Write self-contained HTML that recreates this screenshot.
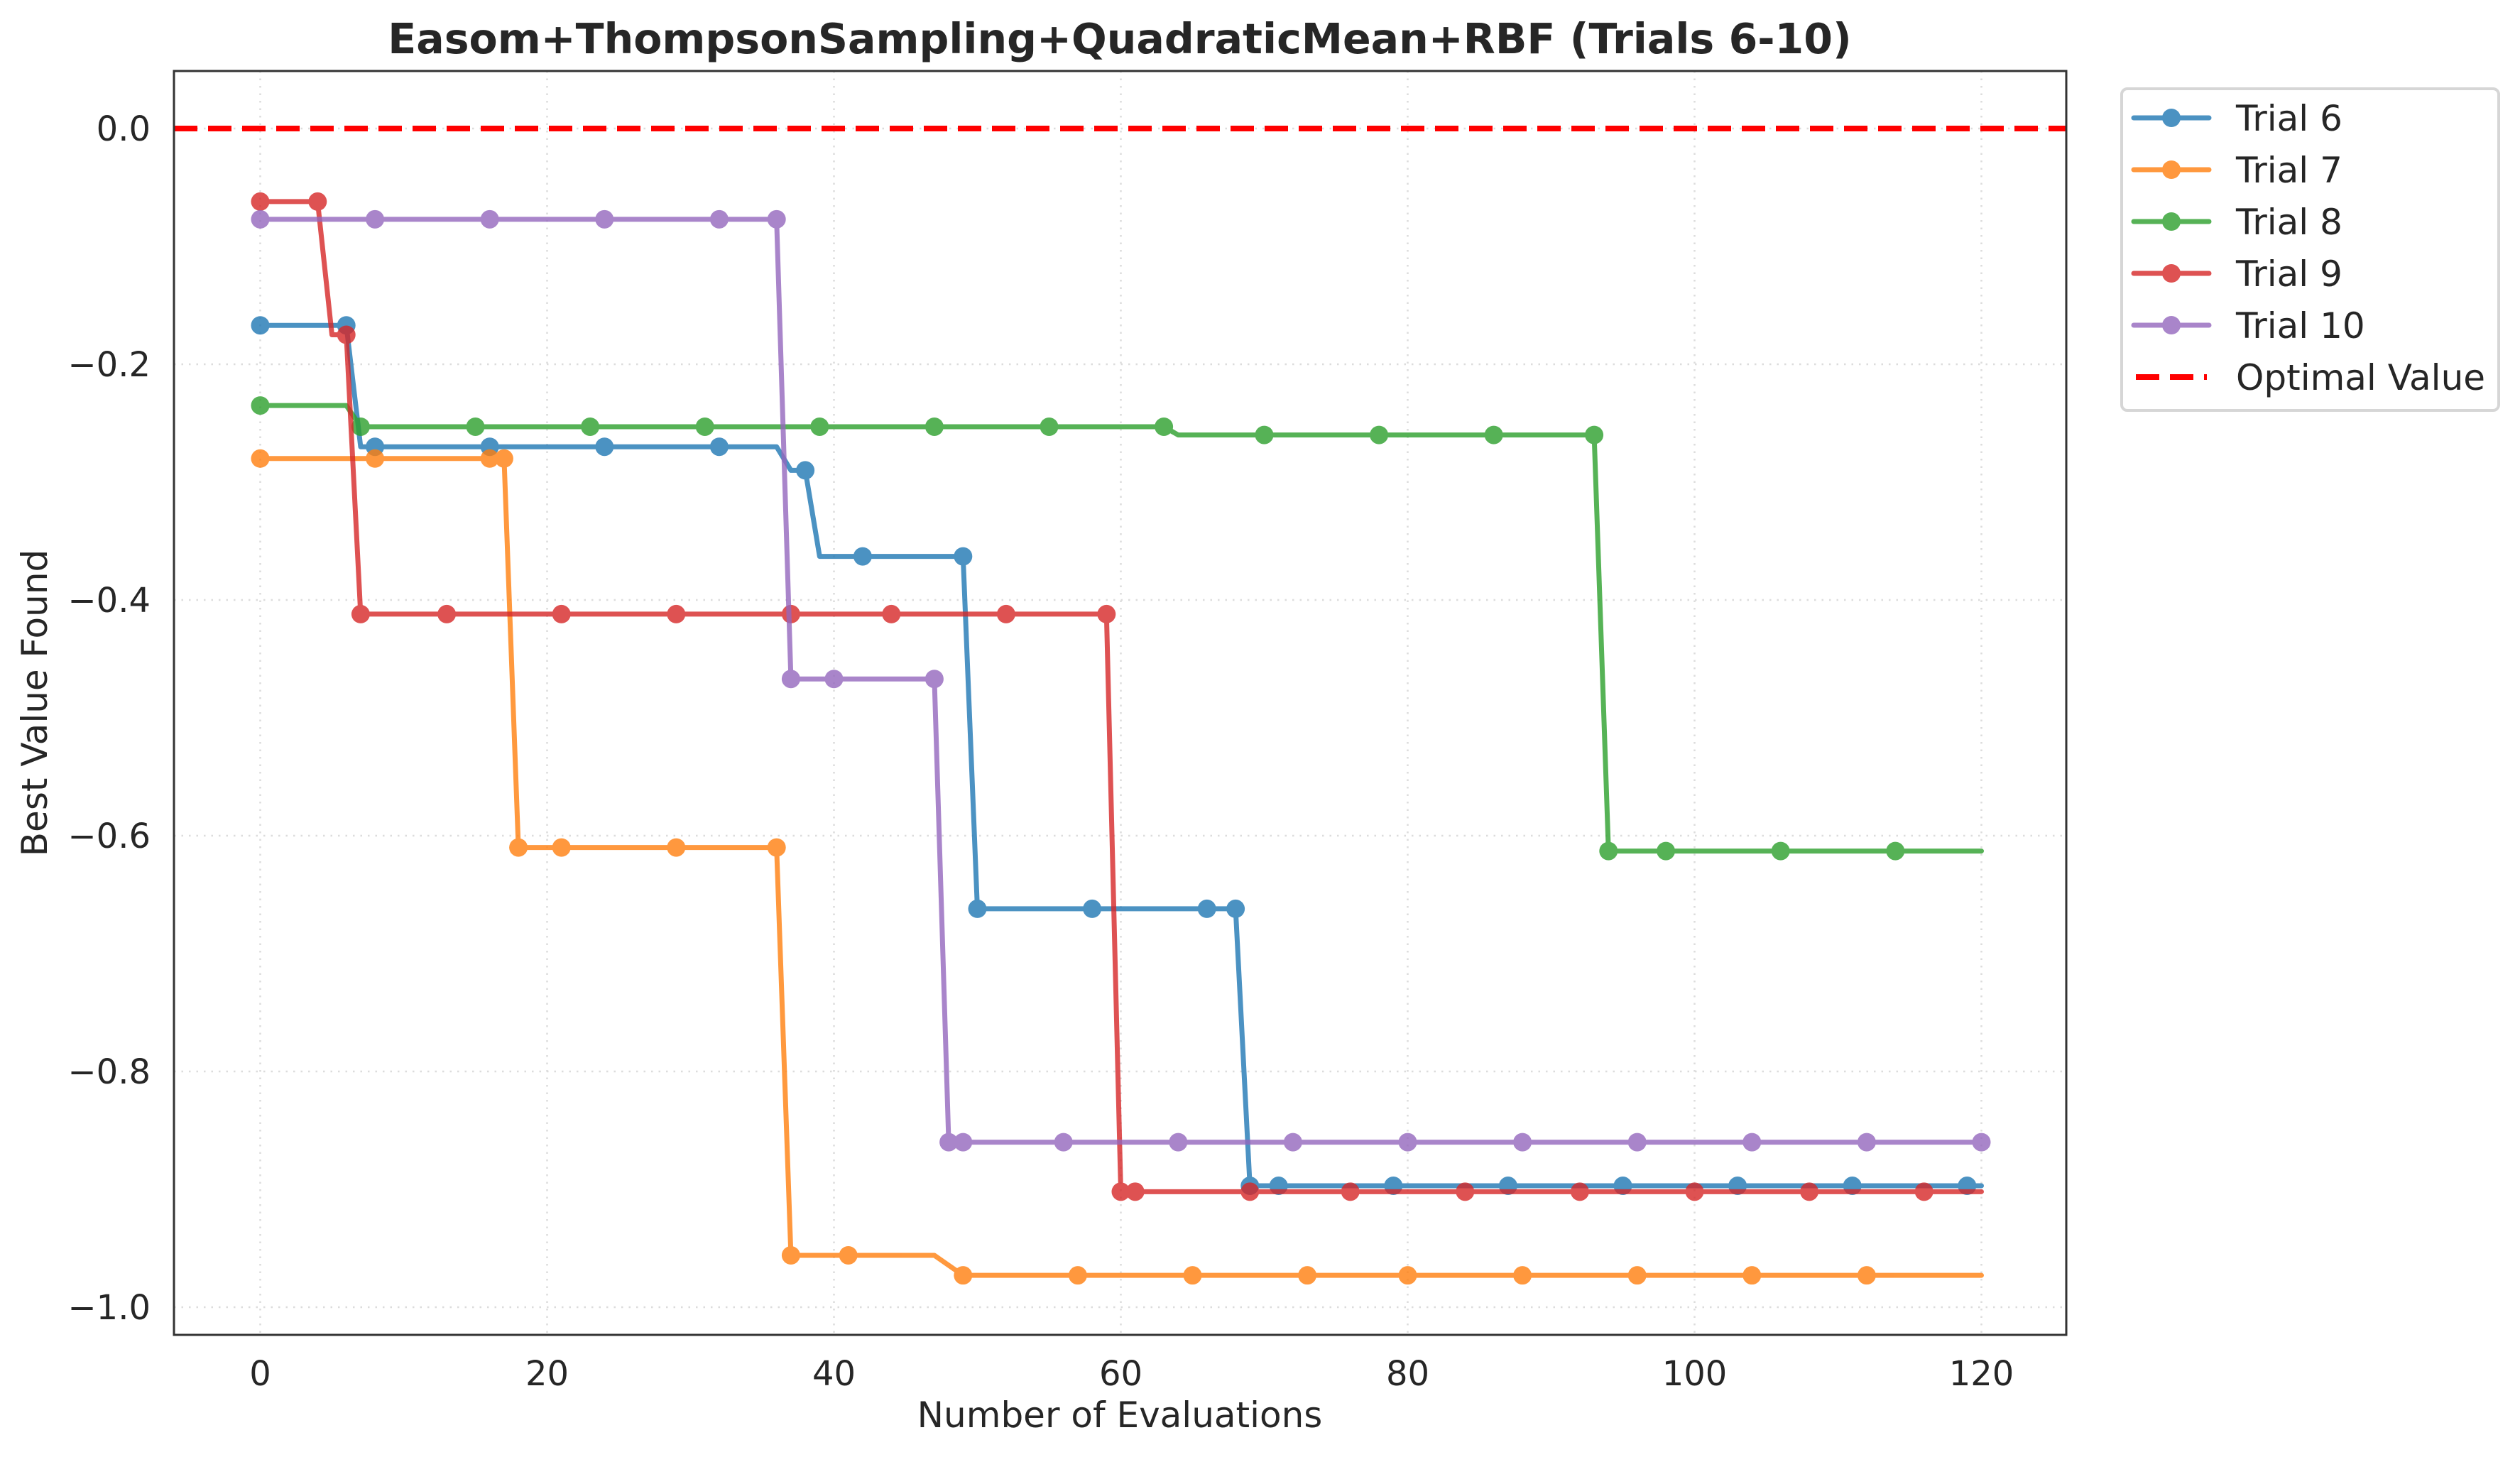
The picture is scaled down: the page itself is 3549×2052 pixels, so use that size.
<!DOCTYPE html>
<html><head><meta charset="utf-8"><style>
html,body{margin:0;padding:0;background:#fff;}
svg{display:block;font-family:"DejaVu Sans","Liberation Sans",sans-serif;}
</style></head><body>
<svg id="chart" width="3549" height="2052" viewBox="0 0 3549 2052" xmlns="http://www.w3.org/2000/svg">
<rect width="3549" height="2052" fill="#fff"/>
<g id="grid"></g>
<g id="series"></g>
<rect x="245" y="100" width="2665" height="1780" fill="none" stroke="#333" stroke-width="3"/>
<g id="ticks"></g>
<text x="1577" y="75" text-anchor="middle" font-size="58.5" font-weight="bold" fill="#262626">Easom+ThompsonSampling+QuadraticMean+RBF (Trials 6-10)</text>
<text x="1577" y="2010" text-anchor="middle" font-size="50" fill="#262626">Number of Evaluations</text>
<text x="66" y="990" text-anchor="middle" font-size="50" fill="#262626" transform="rotate(-90 66 990)">Best Value Found</text>
<g id="legend"></g>
</svg>
<script>
const xTicks = [0, 20, 40, 60, 80, 100, 120];
const yTicks = [0.0, -0.2, -0.4, -0.6, -0.8, -1.0];
const seriesNames = ["Trial 6", "Trial 7", "Trial 8", "Trial 9", "Trial 10"];
const seriesColors = ["#1f77b4", "#ff7f0e", "#2ca02c", "#d62728", "#9467bd"];
const optimalValue = 0.0;
// vertex x/y (line path) and marker x per trial
const t6x = [0, 6, 7, 36, 37, 38, 39, 49, 50, 68, 69, 120];
const t6y = [-0.167, -0.167, -0.270, -0.270, -0.290, -0.290, -0.363, -0.363, -0.662, -0.662, -0.897, -0.897];
const t6m = [0, 6, 8, 16, 24, 32, 38, 42, 49, 50, 58, 66, 68, 69, 71, 79, 87, 95, 103, 111, 119];
const t7x = [0, 17, 18, 36, 37, 47, 49, 120];
const t7y = [-0.280, -0.280, -0.610, -0.610, -0.956, -0.956, -0.973, -0.973];
const t7m = [0, 8, 16, 17, 18, 21, 29, 36, 37, 41, 49, 57, 65, 73, 80, 88, 96, 104, 112];
const t8x = [0, 6, 7, 63, 64, 93, 94, 120];
const t8y = [-0.235, -0.235, -0.253, -0.253, -0.260, -0.260, -0.613, -0.613];
const t8m = [0, 7, 15, 23, 31, 39, 47, 55, 63, 70, 78, 86, 93, 94, 98, 106, 114];
const t9x = [0, 4, 5, 6, 7, 59, 60, 120];
const t9y = [-0.062, -0.062, -0.175, -0.175, -0.412, -0.412, -0.902, -0.902];
const t9m = [0, 4, 6, 7, 13, 21, 29, 37, 44, 52, 59, 60, 61, 69, 76, 84, 92, 100, 108, 116];
const t10x = [0, 36, 37, 47, 48, 120];
const t10y = [-0.077, -0.077, -0.467, -0.467, -0.860, -0.860];
const t10m = [0, 8, 16, 24, 32, 36, 37, 40, 47, 48, 49, 56, 64, 72, 80, 88, 96, 104, 112, 120];

const NS = "http://www.w3.org/2000/svg";
const X0 = 366.5, XPU = 20.2;
const Y0 = 181, YPU = 1660;
function sx(v){ return X0 + v * XPU; }
function sy(v){ return Y0 - v * YPU; }
function mk(tag, attrs, parent){ const e = document.createElementNS(NS, tag); for (const k in attrs) e.setAttribute(k, attrs[k]); parent.appendChild(e); return e; }
function interp(xs, ys, x){ for (let i = 0; i < xs.length - 1; i++){ if (x >= xs[i] && x <= xs[i+1]){ if (xs[i+1] === xs[i]) return ys[i+1]; return ys[i] + (ys[i+1]-ys[i])*(x-xs[i])/(xs[i+1]-xs[i]); } } return ys[ys.length-1]; }

const grid = document.getElementById('grid');
const ticks = document.getElementById('ticks');
xTicks.forEach(t => {
  const g = mk('line', {x1: sx(t), x2: sx(t), y1: 100, y2: 1880, stroke: '#dcdcdc', 'stroke-width': 2.5, 'stroke-dasharray': '2.5 8'}, grid);
  
  
  const l = mk('text', {x: sx(t), y: 1951, 'text-anchor': 'middle', 'font-size': 48, fill: '#262626'}, ticks);
  l.textContent = String(t);
  
  
});
yTicks.forEach(t => {
  const g = mk('line', {x1: 245, x2: 2910, y1: sy(t), y2: sy(t), stroke: '#dcdcdc', 'stroke-width': 2.5, 'stroke-dasharray': '2.5 8'}, grid);
  
  
  const l = mk('text', {x: 212, y: sy(t) + 17, 'text-anchor': 'end', 'font-size': 48, fill: '#262626'}, ticks);
  l.textContent = (t === 0 ? '0.0' : '\u2212' + Math.abs(t).toFixed(1));
  
  
});

const series = document.getElementById('series');
const allX = [t6x, t7x, t8x, t9x, t10x];
const allY = [t6y, t7y, t8y, t9y, t10y];
const allM = [t6m, t7m, t8m, t9m, t10m];
for (let s = 0; s < 5; s++){
  const g = mk('g', {opacity: 0.8}, series);
  
  
  const pts = allX[s].map((x, i) => sx(x) + ',' + sy(allY[s][i])).join(' ');
  const pl = mk('polyline', {points: pts, fill: 'none', stroke: seriesColors[s], 'stroke-width': 7, 'stroke-linejoin': 'round', 'stroke-linecap': 'round'}, g);
  
  
  allM[s].forEach(mx => {
    const c = mk('circle', {cx: sx(mx), cy: sy(interp(allX[s], allY[s], mx)), r: 13, fill: seriesColors[s]}, g);
    
    
  });
}
const opt = mk('line', {x1: 245, x2: 2910, y1: sy(optimalValue), y2: sy(optimalValue), stroke: '#ff0000', 'stroke-width': 8, 'stroke-dasharray': '33 15'}, series);



const lg = document.getElementById('legend');
const box = mk('rect', {x: 2988, y: 125, width: 531, height: 453, rx: 8, fill: '#fff', stroke: '#d6d6d6', 'stroke-width': 4}, lg);


const names = seriesNames.concat(['Optimal Value']);
names.forEach((n, i) => {
  const y = 166 + i * 73;
  const e = mk('g', {}, lg);
  
  
  if (i < 5){
    const g2 = mk('g', {opacity: 0.8}, e);
    mk('line', {x1: 3005, x2: 3111, y1: y, y2: y, stroke: seriesColors[i], 'stroke-width': 7, 'stroke-linecap': 'round'}, g2);
    mk('circle', {cx: 3058, cy: y, r: 13, fill: seriesColors[i]}, g2);
  } else {
    mk('line', {x1: 3008, x2: 3108, y1: y, y2: y, stroke: '#ff0000', 'stroke-width': 8, 'stroke-dasharray': '33 15'}, e);
  }
  const t = mk('text', {x: 3149, y: y + 18, 'font-size': 50, fill: '#262626'}, e);
  t.textContent = n;
});
</script>
</body></html>
